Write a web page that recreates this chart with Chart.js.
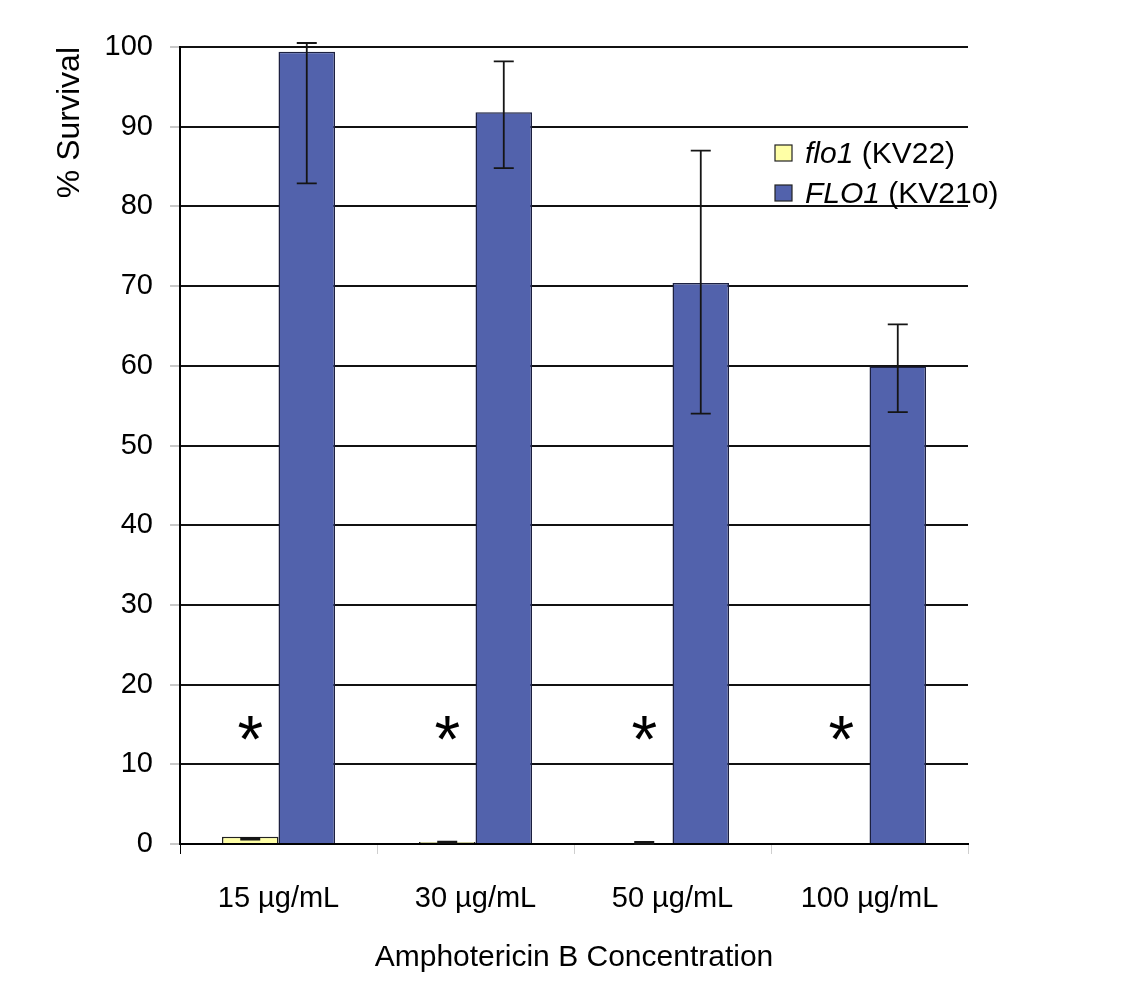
<!DOCTYPE html>
<html>
<head>
<meta charset="utf-8">
<script src="https://cdn.jsdelivr.net/npm/chart.js@4.4.1/dist/chart.umd.min.js"></script>
<style>
  html, body { margin: 0; padding: 0; background: #fff; }
  canvas { display: block; }
</style>
</head>
<body>
<canvas id="c" width="1127" height="981"></canvas>
<script>
// ---- data ----
const categories = ['15 µg/mL', '30 µg/mL', '50 µg/mL', '100 µg/mL'];
const flo1Values = [0.9, 0.25, 0, 0];
const flo1ErrLow = [0.55, 0.15, 0.0, null];
const flo1ErrHigh = [0.75, 0.3, 0.25, null];
const FLO1Values = [99.4, 91.8, 70.4, 59.9];
const FLO1ErrLow = [82.9, 84.8, 54.0, 54.2];
const FLO1ErrHigh = [100.5, 98.2, 87.0, 65.2];
const asteriskLevel = [14, 14, 14, 14];
const legendItalic = ['flo1', 'FLO1'];
const legendRest = [' (KV22)', ' (KV210)'];
const yTicks = [0, 10, 20, 30, 40, 50, 60, 70, 80, 90, 100];

const FONT = "'Liberation Sans', Arial, sans-serif";
const yellow = '#FFFFA6';
const blue = '#5262AC';
const legendColors = [yellow, blue];

const errorBarPlugin = {
  id: 'errorBars',
  afterDatasetsDraw(chart) {
    const ctx = chart.ctx;
    const ys = chart.scales.y;
    const lows = [flo1ErrLow, FLO1ErrLow];
    const highs = [flo1ErrHigh, FLO1ErrHigh];
    ctx.save();
    ctx.strokeStyle = '#151515';
    ctx.lineWidth = 1.8;
    chart.data.datasets.forEach((ds, di) => {
      const meta = chart.getDatasetMeta(di);
      meta.data.forEach((bar, i) => {
        const lo = lows[di][i], hi = highs[di][i];
        if (lo === null || hi === null) return;
        const x = bar.x;
        const yl = ys.getPixelForValue(lo);
        const yh = ys.getPixelForValue(hi);
        const cap = 10;
        ctx.beginPath();
        ctx.moveTo(x, yl); ctx.lineTo(x, yh);
        ctx.moveTo(x - cap, yl); ctx.lineTo(x + cap, yl);
        ctx.moveTo(x - cap, yh); ctx.lineTo(x + cap, yh);
        ctx.stroke();
      });
    });
    // asterisks above the flo1 bars
    const meta0 = chart.getDatasetMeta(0);
    ctx.fillStyle = '#000';
    ctx.font = '66px ' + FONT;
    ctx.textAlign = 'center';
    ctx.textBaseline = 'alphabetic';
    meta0.data.forEach((bar, i) => {
      const y = ys.getPixelForValue(asteriskLevel[i]);
      ctx.fillText('*', bar.x, y + 30);
    });
    // legend
    const ca = chart.chartArea;
    const lx = ca.right - 193;
    const rows = [ca.top + 106, ca.top + 146];
    ctx.textAlign = 'left';
    ctx.textBaseline = 'middle';
    rows.forEach((ry, i) => {
      ctx.fillStyle = legendColors[i];
      ctx.fillRect(lx, ry - 8, 17, 16);
      ctx.strokeStyle = '#222';
      ctx.lineWidth = 1.2;
      ctx.strokeRect(lx, ry - 8, 17, 16);
      ctx.fillStyle = '#000';
      ctx.font = 'italic 30px ' + FONT;
      const tx = lx + 30;
      ctx.fillText(legendItalic[i], tx, ry + 2);
      const w = ctx.measureText(legendItalic[i]).width;
      ctx.font = '30px ' + FONT;
      ctx.fillText(legendRest[i], tx + w, ry + 2);
    });
    ctx.restore();
  }
};

new Chart(document.getElementById('c'), {
  type: 'bar',
  data: {
    labels: categories,
    datasets: [
      { label: 'flo1 (KV22)', data: flo1Values, backgroundColor: yellow, borderColor: '#222', borderWidth: 1.5 },
      { label: 'FLO1 (KV210)', data: FLO1Values, backgroundColor: blue, borderColor: '#1c2040', borderWidth: 1.5 }
    ]
  },
  options: {
    responsive: false,
    animation: false,
    layout: { padding: { left: 0, top: 47, right: 159, bottom: 0 } },
    plugins: { legend: { display: false }, tooltip: { enabled: false } },
    datasets: { bar: { barPercentage: 1.0, categoryPercentage: 0.574 } },
    scales: {
      x: {
        afterFit(scale) { scale.height = 137; },
        grid: {
          offset: true,
          drawOnChartArea: false,
          tickLength: 10,
          tickColor: (ctx) => ctx.index === 0 ? '#000' : '#cfcfcf'
        },
        border: { color: '#000', width: 2 },
        ticks: { color: '#000', font: { family: FONT, size: 29 }, padding: 28 },
        title: {
          display: true,
          text: 'Amphotericin B Concentration',
          color: '#000',
          font: { family: FONT, size: 30 },
          padding: { top: 0, bottom: 5 }
        }
      },
      y: {
        min: 0, max: 100,
        afterFit(scale) { scale.width = 180; },
        afterBuildTicks(scale) { scale.ticks = yTicks.map(v => ({ value: v })); },
        grid: { color: '#111', lineWidth: 2, tickLength: 10, tickColor: '#c8c8c8' },
        border: { color: '#000', width: 2 },
        ticks: { color: '#000', font: { family: FONT, size: 29 }, padding: 17 },
        title: {
          display: true,
          text: '% Survival',
          align: 'end',
          color: '#000',
          font: { family: FONT, size: 32 },
          padding: { top: 51, bottom: 0 }
        }
      }
    }
  },
  plugins: [errorBarPlugin]
});
</script>
</body>
</html>
